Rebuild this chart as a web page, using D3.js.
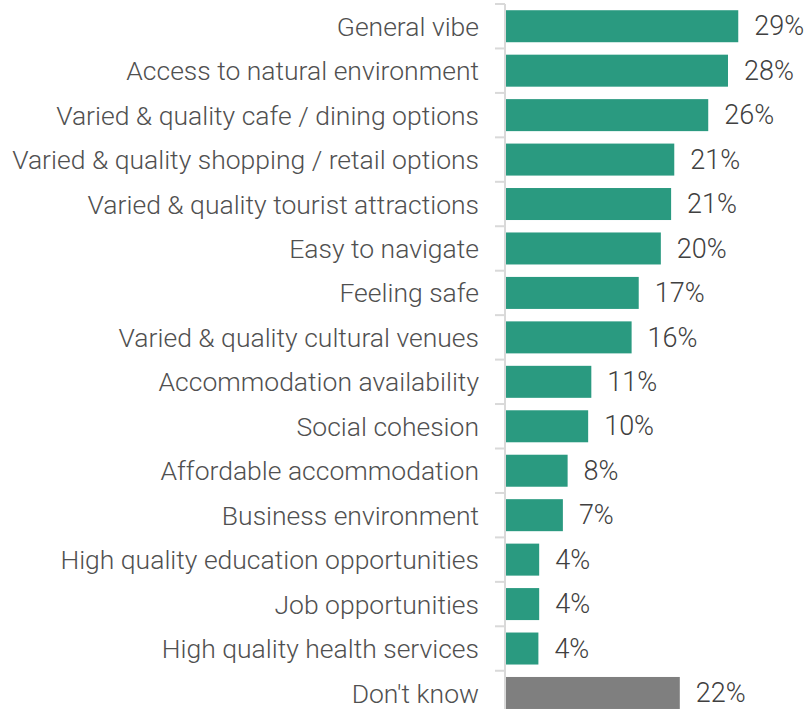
<!DOCTYPE html>
<html>
<head>
<meta charset="utf-8">
<script src="https://cdn.jsdelivr.net/npm/d3@7"></script>
<style>
  html, body { margin: 0; padding: 0; background: #fff; }
  svg { display: block; }
</style>
</head>
<body>
<svg id="chart" width="812" height="709"></svg>
<script>
const categories = [
  "General vibe",
  "Access to natural environment",
  "Varied & quality cafe / dining options",
  "Varied & quality shopping / retail options",
  "Varied & quality tourist attractions",
  "Easy to navigate",
  "Feeling safe",
  "Varied & quality cultural venues",
  "Accommodation availability",
  "Social cohesion",
  "Affordable accommodation",
  "Business environment",
  "High quality education opportunities",
  "Job opportunities",
  "High quality health services",
  "Don't know"
];
const values = [29.4, 28.1, 25.6, 21.3, 20.9, 19.6, 16.8, 15.9, 10.8, 10.4, 7.8, 7.2, 4.2, 4.2, 4.1, 22.0];
const valueLabels = ["29%", "28%", "26%", "21%", "21%", "20%", "17%", "16%", "11%", "10%", "8%", "7%", "4%", "4%", "4%", "22%"];

const data = categories.map((c, i) => ({ cat: c, value: values[i], label: valueLabels[i] }));

const svg = d3.select("#chart");
const FONT = "Roboto, 'Noto Sans', sans-serif";

const y = d3.scaleBand()
  .domain(categories)
  .range([4, 715.2])
  .paddingInner(0.28)
  .paddingOuter(0.14);

const x = d3.scaleLinear()
  .domain([0, 30])
  .range([506, 743]);

const axisX = 505;

// bars
svg.append("g").selectAll("rect")
  .data(data)
  .join("rect")
  .attr("x", x(0))
  .attr("y", d => y(d.cat))
  .attr("width", d => x(d.value) - x(0))
  .attr("height", y.bandwidth())
  .attr("fill", d => d.cat === "Don't know" ? "#7f7f7f" : "#2a9a80");

// axis with category labels
const yAxis = d3.axisLeft(y).tickSize(0).tickPadding(26);
const gAxis = svg.append("g")
  .attr("transform", `translate(${axisX},0)`)
  .call(yAxis);
gAxis.select(".domain").remove();
gAxis.selectAll("text")
  .attr("font-family", FONT)
  .attr("font-weight", 300)
  .attr("font-size", 26.5)
  .attr("dy", "0.36em")
  .attr("fill", "#505050");

// axis line and boundary ticks
const step = y.step();
const boundaries = categories.map(c => y(c) - step * y.paddingInner() / 2);
boundaries.push(y(categories[categories.length - 1]) + y.bandwidth() + step * y.paddingInner() / 2);
svg.append("line")
  .attr("x1", axisX).attr("x2", axisX)
  .attr("y1", boundaries[0]).attr("y2", boundaries[boundaries.length - 1])
  .attr("stroke", "#d9d9d9").attr("stroke-width", 2);
svg.append("g").selectAll("line")
  .data(boundaries)
  .join("line")
  .attr("x1", axisX - 10).attr("x2", axisX)
  .attr("y1", d => d).attr("y2", d => d)
  .attr("stroke", "#d9d9d9").attr("stroke-width", 2);

// value labels
svg.append("g").selectAll("text")
  .data(data)
  .join("text")
  .attr("x", d => x(d.value) + 16)
  .attr("y", d => y(d.cat) + y.bandwidth() / 2)
  .attr("dy", "0.34em")
  .attr("font-family", FONT)
  .attr("font-weight", 300)
  .attr("font-size", 27)
  .attr("fill", "#404040")
  .text(d => d.label);
</script>
</body>
</html>
